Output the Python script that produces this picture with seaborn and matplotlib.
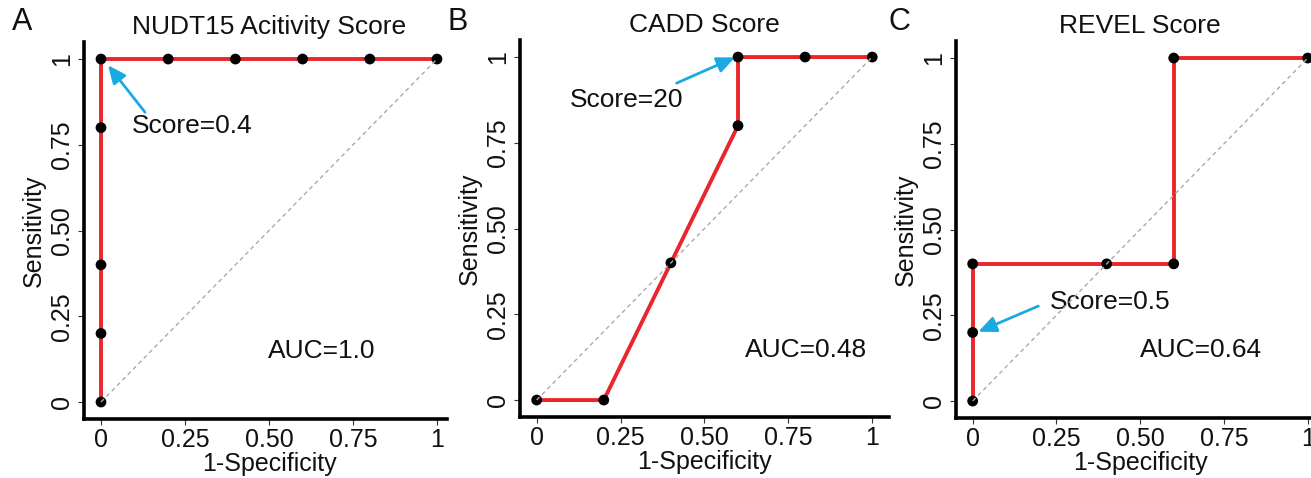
import matplotlib
matplotlib.use("Agg")
import matplotlib.pyplot as plt
import seaborn as sns
import pandas as pd

sns.set_theme(style="white")
plt.rcParams['font.family'] = ['Liberation Sans', 'DejaVu Sans']

titles = ["NUDT15 Acitivity Score", "CADD Score", "REVEL Score"]
letters = ["A", "B", "C"]
fpr_a = [0, 0, 0, 0, 0, 0.2, 0.4, 0.6, 0.8, 1]
tpr_a = [0, 0.2, 0.4, 0.8, 1, 1, 1, 1, 1, 1]
fpr_b = [0, 0.2, 0.4, 0.6, 0.6, 0.8, 1]
tpr_b = [0, 0, 0.4, 0.8, 1, 1, 1]
fpr_c = [0, 0, 0, 0.4, 0.6, 0.6, 1]
tpr_c = [0, 0.2, 0.4, 0.4, 0.4, 1, 1]
aucs = ["AUC=1.0", "AUC=0.48", "AUC=0.64"]
score_labels = ["Score=0.4", "Score=20", "Score=0.5"]
ticks = [0, 0.25, 0.5, 0.75, 1]
tick_labels = ["0", "0.25", "0.50", "0.75", "1"]

data = [(fpr_a, tpr_a), (fpr_b, tpr_b), (fpr_c, tpr_c)]

W, H = 1311, 478
fig = plt.figure(figsize=(W / 100, H / 100), dpi=100)

# axes pixel boxes: left, right, top, bottom
boxes = [(84.2, 453.8, 41.9, 419.2), (519.9, 889.0, 39.9, 417.2), (955.9, 1324.5, 40.9, 418.2)]

text_pos = [(0.092, 0.805), (0.099, 0.875), (0.231, 0.29)]
arrows = [((0.131, 0.845), (0.021, 0.982)), ((0.417, 0.924), (0.591, 0.999)), ((0.196, 0.277), (0.017, 0.202))]
auc_pos = [(0.497, 0.15), (0.62, 0.146), (0.5, 0.149)]
letter_x = [12, 447, 889]

red = '#E8262B'
blue = '#1BA9E3'

for i, (fx, ty) in enumerate(data):
    l, r, t, b = boxes[i]
    ax = fig.add_axes([l / W, 1 - b / H, (r - l) / W, (b - t) / H])
    df = pd.DataFrame({"fpr": fx, "tpr": ty, "order": range(len(fx))})
    sns.lineplot(data=df, x="fpr", y="tpr", sort=False, estimator=None, color=red,
                 linewidth=2.8, ax=ax, zorder=2)
    sns.scatterplot(data=df, x="fpr", y="tpr", color='black', s=60, edgecolor='none',
                    ax=ax, zorder=3)
    ax.plot([0, 1], [0, 1], transform=ax.transData, color='#AAAAAA', lw=1.0,
            dashes=(3, 2.5), zorder=4)
    ax.set_xlim(-0.05, 1.05)
    ax.set_ylim(-0.05, 1.05)
    ax.set_xticks(ticks)
    ax.set_xticklabels(tick_labels)
    ax.set_yticks(ticks)
    ax.set_yticklabels(tick_labels, rotation=90, va='center')
    ax.tick_params(axis='both', which='both', length=4, width=0.8, color='#333333',
                   labelsize=18, labelcolor='#111111', direction='out', bottom=True, left=True)
    ax.tick_params(axis='x', pad=2)
    ax.tick_params(axis='y', pad=3)
    for s in ['top', 'right']:
        ax.spines[s].set_visible(False)
    for s in ['left', 'bottom']:
        ax.spines[s].set_linewidth(2.6)
        ax.spines[s].set_color('black')
    if i == 0:
        ax.spines['bottom'].set_bounds(-0.05, 1.03)
    ax.set_xlabel("1-Specificity", fontsize=18, labelpad=0, color='#111111')
    ax.set_ylabel("Sensitivity", fontsize=18, labelpad=3, color='#111111')
    ax.set_title(titles[i], fontsize=19, pad=6, color='#111111')
    ax.text(text_pos[i][0], text_pos[i][1], score_labels[i], fontsize=19, va='center', ha='left', color='#111111')
    ax.annotate("", xy=arrows[i][1], xytext=arrows[i][0],
                arrowprops=dict(arrowstyle='-|>,head_length=0.9,head_width=0.4', color=blue, lw=2.0,
                                shrinkA=0, shrinkB=0))
    ax.text(auc_pos[i][0], auc_pos[i][1], aucs[i], fontsize=19, va='center', ha='left', color='#111111')
    ax.set_facecolor('none')
    fig.text(letter_x[i] / W, 1 - 22 / H, letters[i], fontsize=22, va='center', ha='left', color='#111111')

fig.savefig("out.png", dpi=100, facecolor='white')
